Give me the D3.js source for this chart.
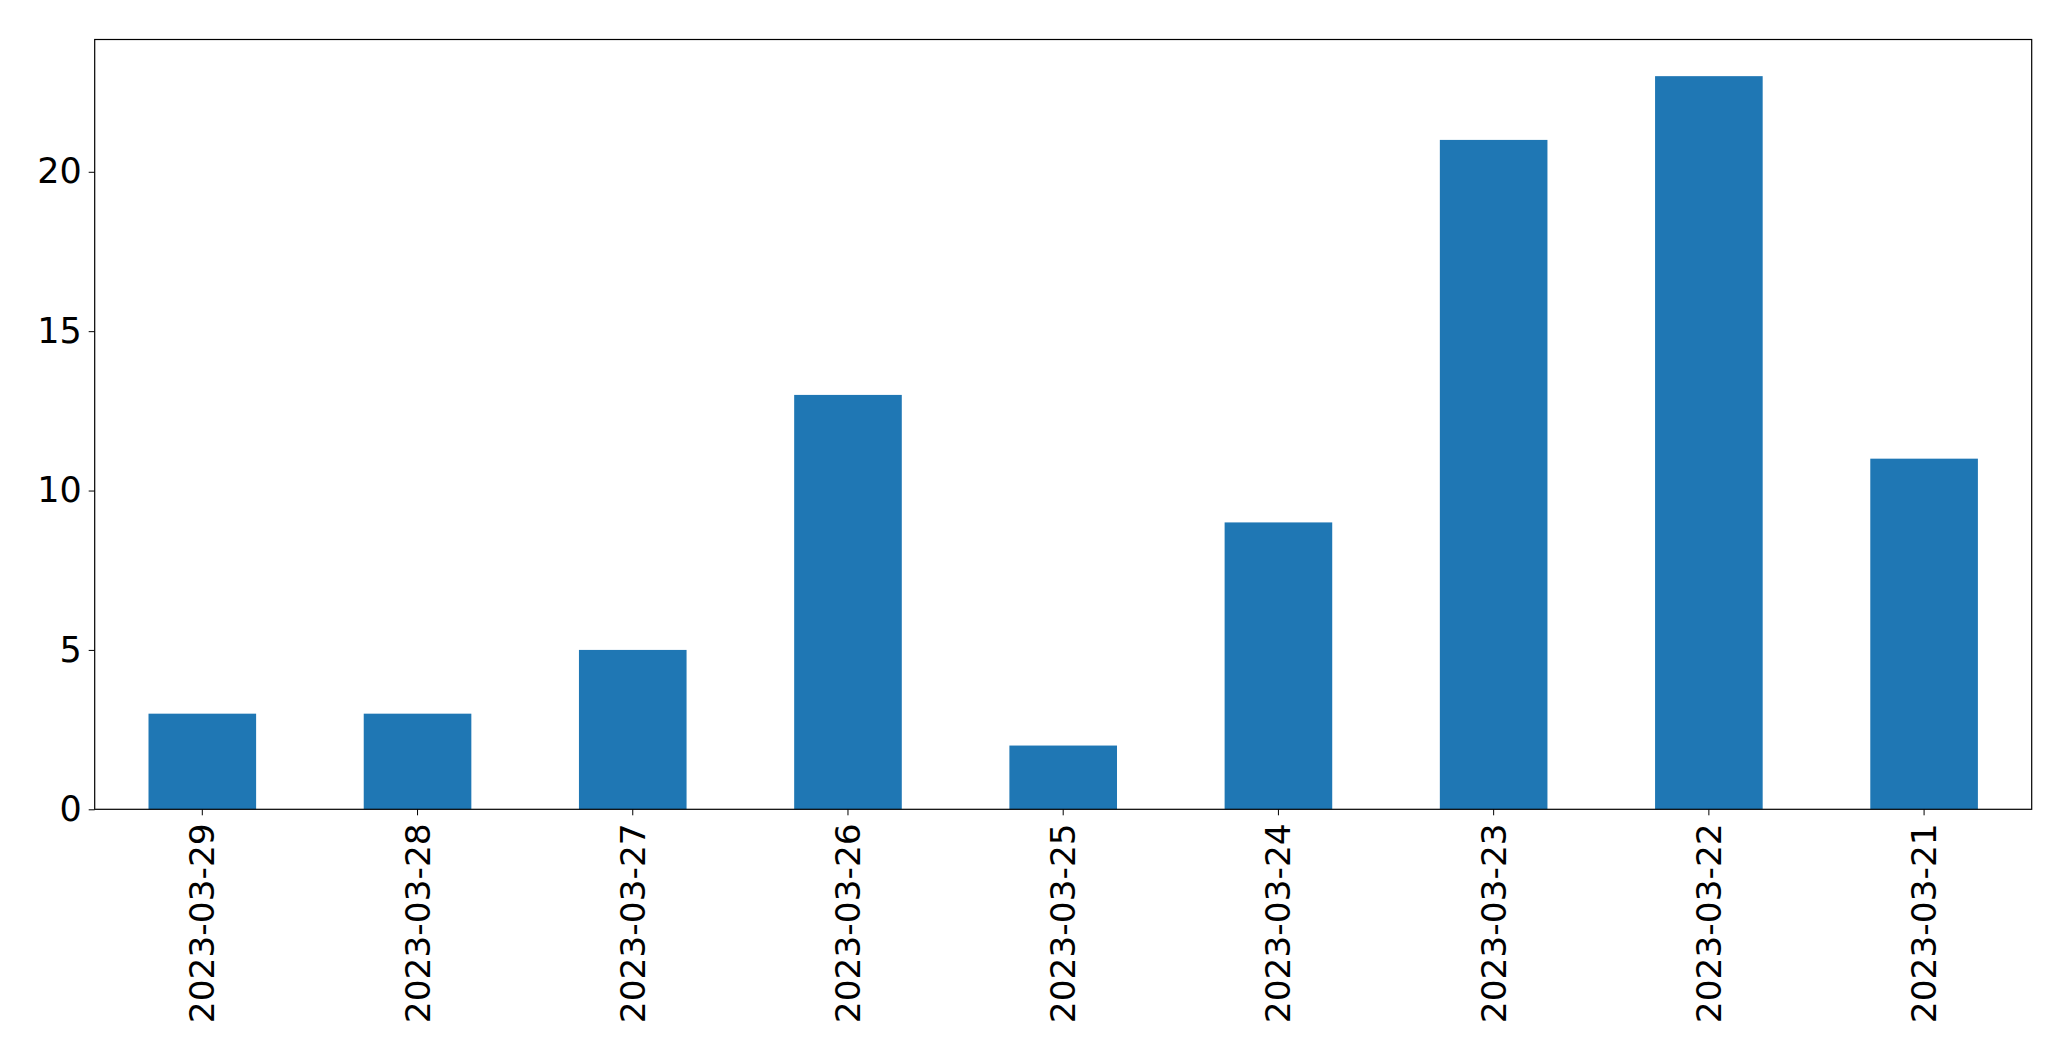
<!DOCTYPE html>
<html><head><meta charset="utf-8">
<script src="https://cdn.jsdelivr.net/npm/d3@7"></script>
<style>body{margin:0;background:#fff}svg{display:block}</style>
</head><body>
<script>
const categories = ["2023-03-29","2023-03-28","2023-03-27","2023-03-26","2023-03-25","2023-03-24","2023-03-23","2023-03-22","2023-03-21"];
const values = [3,3,5,13,2,9,21,23,11];
const yTicks = [0,5,10,15,20];

const W = 2071, H = 1061;
const m = {left: 94.7, right: W - 2031.7, top: 39.5, bottom: H - 809.3};
const iw = W - m.left - m.right, ih = H - m.top - m.bottom;
const svg = d3.select("body").append("svg").attr("width", W).attr("height", H);
const g = svg.append("g").attr("transform", `translate(${m.left},${m.top})`);

const x = d3.scaleBand().domain(categories).range([0, iw]).paddingInner(0.5).paddingOuter(0.25);
const y = d3.scaleLinear().domain([0, d3.max(values) * 1.05]).range([ih, 0]);

g.selectAll("rect.bar").data(values).join("rect")
  .attr("class","bar")
  .attr("x", (d,i) => x(categories[i]))
  .attr("width", x.bandwidth())
  .attr("y", d => y(d))
  .attr("height", d => ih - y(d))
  .attr("fill", "#1f77b4");

const font = "'DejaVu Sans', sans-serif";
const yAxis = g.append("g").call(d3.axisLeft(y).tickValues(yTicks).tickSize(6).tickPadding(7).tickFormat(d3.format("d")));
yAxis.select(".domain").remove();
yAxis.selectAll("text").style("font-family", font).style("font-size", "35px").attr("fill","#000");
yAxis.selectAll("line").attr("stroke","#000");

const xAxis = g.append("g").attr("transform", `translate(0,${ih})`).call(d3.axisBottom(x).tickSize(6).tickPadding(8));
xAxis.select(".domain").remove();
xAxis.selectAll("line").attr("stroke","#000");
xAxis.selectAll("text")
  .style("font-family", font).style("font-size", "34.4px").attr("fill","#000")
  .attr("transform", "rotate(-90)")
  .attr("text-anchor", "end")
  .attr("x", -14).attr("y", 0).attr("dy", "0.35em");

g.append("rect").attr("x",0).attr("y",0).attr("width",iw).attr("height",ih)
  .attr("fill","none").attr("stroke","#000").attr("stroke-width",1.2);
</script>
</body></html>
